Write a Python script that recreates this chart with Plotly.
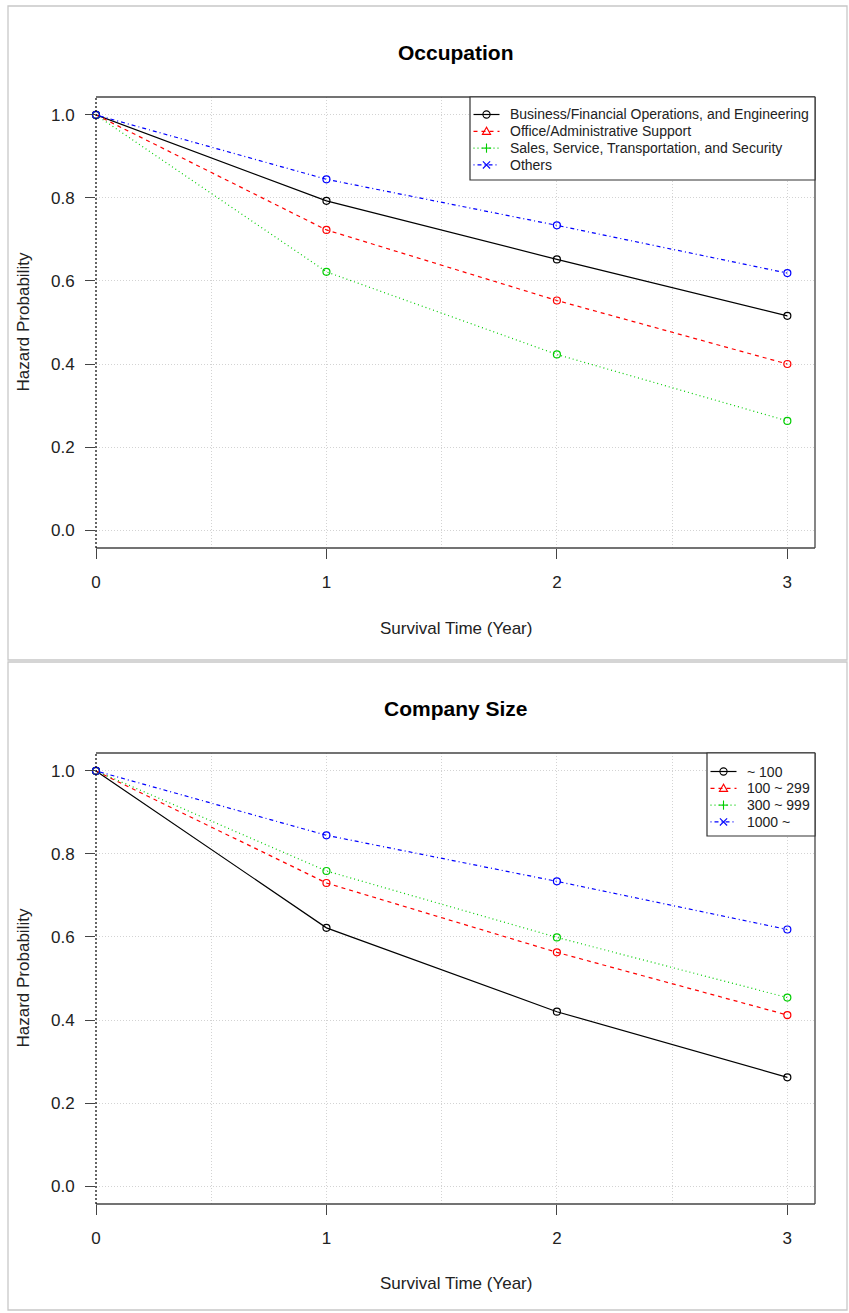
import plotly.graph_objects as go

# ---------------- data ----------------
time = [0, 1, 2, 3]

occ_names = [
    "Business/Financial Operations, and Engineering",
    "Office/Administrative Support",
    "Sales, Service, Transportation, and Security",
    "Others",
]
occ_business = [1.0, 0.793, 0.652, 0.516]
occ_office = [1.0, 0.723, 0.553, 0.400]
occ_sales = [1.0, 0.622, 0.423, 0.263]
occ_others = [1.0, 0.845, 0.734, 0.619]

size_names = ["~ 100", "100 ~ 299", "300 ~ 999", "1000 ~"]
size_lt100 = [1.0, 0.622, 0.420, 0.262]
size_100_299 = [1.0, 0.730, 0.563, 0.412]
size_300_999 = [1.0, 0.759, 0.599, 0.454]
size_1000 = [1.0, 0.845, 0.734, 0.618]

x_ticks = [0, 1, 2, 3]
x_ticklabels = ["0", "1", "2", "3"]
y_ticks = [0.0, 0.2, 0.4, 0.6, 0.8, 1.0]
y_ticklabels = ["0.0", "0.2", "0.4", "0.6", "0.8", "1.0"]

titles = ["Occupation", "Company Size"]
x_title = "Survival Time (Year)"
y_title = "Hazard Probability"

# ---------------- styles ----------------
colors = ["#000000", "#FF0000", "#00CD00", "#0000FF"]
dashes = ["solid", "4px,4px", "1px,3px", "1px,3px,4px,3px"]
legend_symbols = ["circle", "triangle", "plus", "cross"]
FONT = "Liberation Sans, Arial, sans-serif"
GRID_DASH = "1px,2px"
W, H = 849, 1313


def px_x(p):
    return p / W


def px_y(p):
    return 1 - p / H


fig = go.Figure()

panels = [
    (occ_names, [occ_business, occ_office, occ_sales, occ_others], "x", "y"),
    (size_names, [size_lt100, size_100_299, size_300_999, size_1000], "x2", "y2"),
]

for names, series, xa, ya in panels:
    for i, (nm, vals) in enumerate(zip(names, series)):
        fig.add_trace(go.Scatter(
            x=time, y=vals, mode="lines+markers", xaxis=xa, yaxis=ya,
            line=dict(color=colors[i], width=1.2, dash=dashes[i]),
            marker=dict(symbol="circle-open", size=7, color=colors[i], line=dict(width=1.2)),
            showlegend=False, cliponaxis=False, hoverinfo="x+y+name", name=nm,
        ))

# panel pixel geometry
plot_left, plot_right = 96, 815
panel_geo = [
    dict(top=97, bottom=548, title_y=52, xt_y=628, frame=(6, 660),
         legend=dict(left=470, right=815, top=97, bottom=180, row0=114.5)),
    dict(top=753, bottom=1204, title_y=708, xt_y=1283, frame=(662, 1310),
         legend=dict(left=707, right=815, top=753, bottom=836, row0=771.5)),
]
ROW_GAP = 16.8

axis_common_x = dict(
    range=[0, 3.12], tickmode="array", tickvals=x_ticks, ticktext=x_ticklabels,
    ticks="outside", ticklen=10, tickcolor="#444", tickwidth=1,
    showgrid=True, gridcolor="#d3d3d3", griddash=GRID_DASH, gridwidth=1,
    minor=dict(dtick=0.5, tick0=0, showgrid=True, gridcolor="#d3d3d3", griddash=GRID_DASH,
               gridwidth=1, ticks=""),
    zeroline=False, showline=False, automargin=False,
    tickfont=dict(family=FONT, size=17, color="#222"), ticklabelstandoff=9,
    fixedrange=True,
)
axis_common_y = dict(
    range=[-0.0432, 1.0432], tickmode="array", tickvals=y_ticks, ticktext=y_ticklabels,
    ticks="outside", ticklen=10, tickcolor="#444", tickwidth=1,
    showgrid=True, gridcolor="#d3d3d3", griddash=GRID_DASH, gridwidth=1,
    zeroline=False, showline=False, automargin=False,
    tickfont=dict(family=FONT, size=17, color="#222"), ticklabelstandoff=7,
    fixedrange=True,
)

shapes = []
annotations = []
layout_axes = {}


def legend_symbol_shapes(kind, cx, cy, color, r=3.6):
    ln = dict(color=color, width=1.1)
    if kind == "circle":
        return [dict(type="circle", xref="paper", yref="paper",
                     x0=px_x(cx - r), x1=px_x(cx + r), y0=px_y(cy + r), y1=px_y(cy - r), line=ln)]
    if kind == "triangle":
        path = "M {} {} L {} {} L {} {} Z".format(
            px_x(cx), px_y(cy - r - 0.5), px_x(cx - r - 0.5), px_y(cy + r - 0.5),
            px_x(cx + r + 0.5), px_y(cy + r - 0.5))
        return [dict(type="path", xref="paper", yref="paper", path=path, line=ln)]
    if kind == "plus":
        return [dict(type="line", xref="paper", yref="paper", x0=px_x(cx - r - 1), x1=px_x(cx + r + 1),
                     y0=px_y(cy), y1=px_y(cy), line=ln),
                dict(type="line", xref="paper", yref="paper", x0=px_x(cx), x1=px_x(cx),
                     y0=px_y(cy - r - 1), y1=px_y(cy + r + 1), line=ln)]
    return [dict(type="line", xref="paper", yref="paper", x0=px_x(cx - r), x1=px_x(cx + r),
                 y0=px_y(cy - r), y1=px_y(cy + r), line=ln),
            dict(type="line", xref="paper", yref="paper", x0=px_x(cx - r), x1=px_x(cx + r),
                 y0=px_y(cy + r), y1=px_y(cy - r), line=ln)]


for k, g in enumerate(panel_geo):
    xs = "" if k == 0 else "2"
    layout_axes["xaxis" + xs] = dict(axis_common_x, domain=[px_x(plot_left), px_x(plot_right)],
                                     anchor="y" + xs)
    layout_axes["yaxis" + xs] = dict(axis_common_y, domain=[px_y(g["bottom"]), px_y(g["top"])],
                                     anchor="x" + xs)
    xd, yd = "x" + xs + " domain", "y" + xs + " domain"
    # plot box (top, right, bottom solid; left dotted)
    for (x0, y0, x1, y1) in [(0, 1, 1, 1), (1, 0, 1, 1), (0, 0, 1, 0)]:
        shapes.append(dict(type="line", xref=xd, yref=yd, x0=x0, y0=y0, x1=x1, y1=y1,
                           line=dict(color="#444", width=1.3), layer="above"))
    shapes.append(dict(type="line", xref=xd, yref=yd, x0=0, y0=0, x1=0, y1=1,
                       line=dict(color="#000", width=1.2, dash="2px,2px"), layer="above"))
    # panel frame
    f0, f1 = g["frame"]
    shapes.append(dict(type="rect", xref="paper", yref="paper",
                       x0=px_x(8), x1=px_x(847), y0=px_y(f1), y1=px_y(f0),
                       line=dict(color="#c8c8c8", width=1.3), layer="below"))
    # titles
    annotations.append(dict(text="<b>" + titles[k] + "</b>", xref="paper", yref="paper",
                            x=px_x((plot_left + plot_right) / 2), y=px_y(g["title_y"]),
                            xanchor="center", yanchor="middle", showarrow=False,
                            font=dict(family=FONT, size=21, color="#000")))
    annotations.append(dict(text=x_title, xref="paper", yref="paper",
                            x=px_x((plot_left + plot_right) / 2), y=px_y(g["xt_y"]),
                            xanchor="center", yanchor="middle", showarrow=False,
                            font=dict(family=FONT, size=17, color="#222")))
    annotations.append(dict(text=y_title, xref="paper", yref="paper",
                            x=px_x(23), y=px_y((g["top"] + g["bottom"]) / 2),
                            xanchor="center", yanchor="middle", showarrow=False, textangle=-90,
                            font=dict(family=FONT, size=17, color="#222")))
    # legend (R-style box)
    lg = g["legend"]
    shapes.append(dict(type="rect", xref="paper", yref="paper",
                       x0=px_x(lg["left"]), x1=px_x(lg["right"]),
                       y0=px_y(lg["bottom"]), y1=px_y(lg["top"]),
                       fillcolor="white", line=dict(color="#333", width=1.2), layer="above"))
    names = panels[k][0]
    for i, nm in enumerate(names):
        cy = lg["row0"] + i * ROW_GAP
        x_l = lg["left"] + 3.5
        shapes.append(dict(type="line", xref="paper", yref="paper",
                           x0=px_x(x_l), x1=px_x(x_l + 26), y0=px_y(cy), y1=px_y(cy),
                           line=dict(color=colors[i], width=1.2, dash=dashes[i]), layer="above"))
        for s in legend_symbol_shapes(legend_symbols[i], x_l + 13, cy, colors[i]):
            s["layer"] = "above"
            shapes.append(s)
        annotations.append(dict(text=nm, xref="paper", yref="paper",
                                x=px_x(lg["left"] + 39), y=px_y(cy), xanchor="left", yanchor="middle",
                                showarrow=False, borderpad=0,
                                font=dict(family=FONT, size=14, color="#222")))

fig.update_layout(
    width=W, height=H, margin=dict(l=0, r=0, t=0, b=0),
    paper_bgcolor="white", plot_bgcolor="white", showlegend=False,
    shapes=shapes, annotations=annotations,
    **layout_axes,
)

fig.write_html("out.html", post_script="document.body.style.margin='0px';",
               config={"displayModeBar": False})
